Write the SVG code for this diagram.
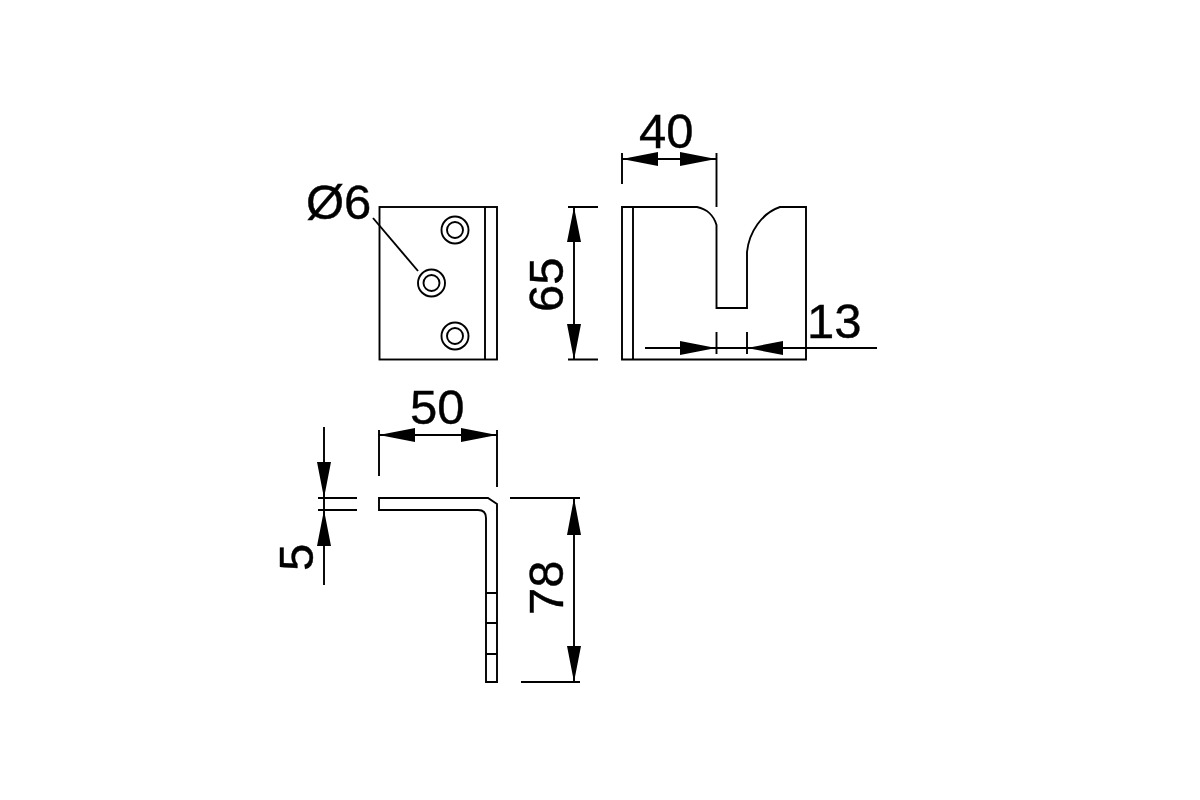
<svg xmlns="http://www.w3.org/2000/svg" width="1200" height="800" viewBox="0 0 1200 800">
<style>
.l{fill:none;stroke:#000;stroke-width:1.9}
.a{fill:#000;stroke:none}
text{font-family:"Liberation Sans",Arial,sans-serif;font-size:49px;fill:#000;stroke:#000;stroke-width:.4}
</style>
<rect width="1200" height="800" fill="#fff"/>
<g id="front-view">
<rect class="l" x="379.500" y="207" width="117.500" height="152.500"/>
<path class="l" d="M485 207V359.500"/>
<circle class="l" cx="455" cy="230" r="13.500"/><circle class="l" cx="455" cy="230" r="8"/>
<circle class="l" cx="431.500" cy="283" r="13.500"/><circle class="l" cx="431.500" cy="283" r="8"/>
<circle class="l" cx="455" cy="336" r="13.500"/><circle class="l" cx="455" cy="336" r="8"/>
</g>
<g id="side-view">
<path class="l" d="M622 207H697C707 209 714 216 716.500 225V308H747V252C749 232 762 213 780 207H806V359.500H622ZM633 207V359.500"/>
</g>
<g id="bottom-view">
<path class="l" d="M379 498H488L497 504V682H486V518Q486 510 478 510H379Z"/>
<path class="l" d="M486 593H497M486 623H497M486 654H497"/>
</g>
<g id="connectors">
<path class="l" d="M373 218L418 271"/>
<path class="l" d="M568 207H598M568 359.500H598M574 207V359.500"/>
<path class="a" d="M574 207L581 242H567ZM574 360L581 324H567Z"/>
<path class="l" d="M622 153V184M716.500 153V207M622 159H716"/>
<path class="a" d="M622 159L658 152V166ZM716 159L680 152V166Z"/>
<path class="l" d="M645 348H877M716.500 332V354M747 332V354"/>
<path class="a" d="M716 348L680 341V355ZM747 348L783 341V355Z"/>
<path class="l" d="M379 430V476M497 430V487M379 435H497"/>
<path class="a" d="M379 435L415 428V442ZM497 435L461 428V442Z"/>
<path class="l" d="M324 427V585M318 498H357M318 510H357"/>
<path class="a" d="M324 498L317 462H331ZM324 510L317 546H331Z"/>
<path class="l" d="M510 498H580M521 682H580M574 498V682"/>
<path class="a" d="M574 498L581 535H567ZM574 682L581 646H567Z"/>
</g>
<g id="labels">
<text x="306" y="219">Ø6</text>
<text x="639" y="148">40</text>
<text x="807" y="338">13</text>
<text x="410" y="424">50</text>
<text transform="translate(563 312) rotate(-90)">65</text>
<text transform="translate(563 615) rotate(-90)">78</text>
<text transform="translate(313 571) rotate(-90)">5</text>
</g>
</svg>
